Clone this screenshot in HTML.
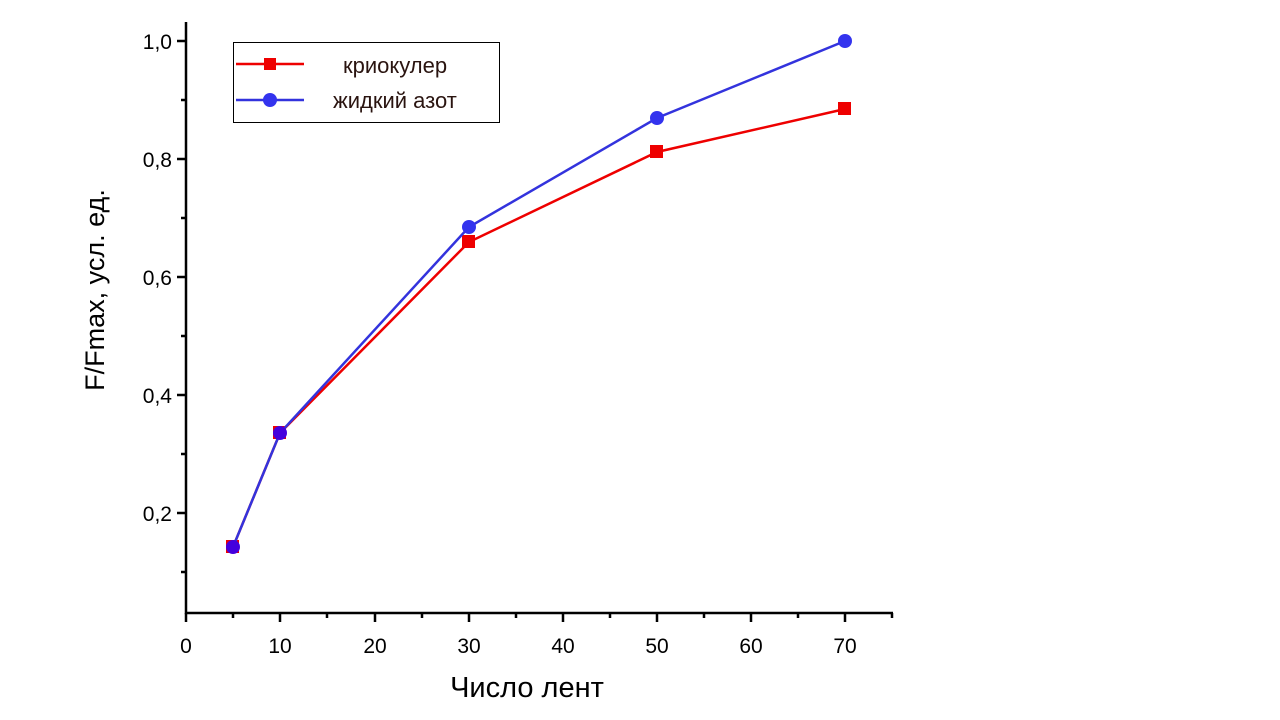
<!DOCTYPE html>
<html><head><meta charset="utf-8"><style>body{margin:0;background:#fff}svg{display:block}</style></head><body>
<svg width="1280" height="720" xmlns="http://www.w3.org/2000/svg" font-family="Liberation Sans, sans-serif">
<g stroke="#000" stroke-width="2.5" fill="none">
<path d="M186,22 V613 H893"/>
<path d="M186,41 h-9 M186,159 h-9 M186,277 h-9 M186,395 h-9 M186,513 h-9 M186,100 h-5 M186,218 h-5 M186,336 h-5 M186,454 h-5 M186,572 h-5"/>
<path d="M186,613 v9 M280,613 v9 M375,613 v9 M469,613 v9 M563,613 v9 M657,613 v9 M751,613 v9 M845,613 v9 M233,613 v5 M327,613 v5 M422,613 v5 M516,613 v5 M610,613 v5 M704,613 v5 M798,613 v5 M892,613 v5"/>
</g>
<g font-size="21" fill="#000" text-anchor="end">
<text x="172" y="49">1,0</text><text x="172" y="167">0,8</text><text x="172" y="285">0,6</text><text x="172" y="403">0,4</text><text x="172" y="521">0,2</text>
</g>
<g font-size="21" fill="#000" text-anchor="middle">
<text x="186" y="653">0</text><text x="280" y="653">10</text><text x="375" y="653">20</text><text x="469" y="653">30</text><text x="563" y="653">40</text><text x="657" y="653">50</text><text x="751" y="653">60</text><text x="845" y="653">70</text>
</g>
<text x="527" y="697" font-size="29" text-anchor="middle">Число лент</text>
<text transform="translate(104,290) rotate(-90)" font-size="27" text-anchor="middle">F/Fmax, усл. ед.</text>
<polyline points="233,547 280,433 469,242 657,152 845,109" fill="none" stroke="#e00" stroke-width="2.5"/>
<g fill="#e00"><rect x="226" y="540" width="13" height="13"/><rect x="273" y="426" width="13" height="13"/><rect x="462" y="235" width="13" height="13"/><rect x="650" y="145" width="13" height="13"/><rect x="838" y="102" width="13" height="13"/></g>
<polyline points="233,547 280,433 469,227 657,118 845,41" fill="none" stroke="#33d" stroke-width="2.5"/>
<g fill="#33e"><circle cx="233" cy="547" r="7" fill="#40d"/><circle cx="280" cy="433" r="7" fill="#40d"/><circle cx="469" cy="227" r="7"/><circle cx="657" cy="118" r="7"/><circle cx="845" cy="41" r="7"/></g>
<rect x="233.5" y="42.5" width="266" height="80" fill="#fff" stroke="#000" stroke-width="1"/>
<line x1="236" y1="64" x2="304" y2="64" stroke="#e00" stroke-width="2.5"/><rect x="264" y="58" width="12" height="12" fill="#e00"/>
<line x1="236" y1="100" x2="304" y2="100" stroke="#33d" stroke-width="2.5"/><circle cx="270" cy="100" r="7" fill="#33e"/>
<g font-size="22" fill="#2a1410"><text x="343" y="73">криокулер</text><text x="333" y="108">жидкий азот</text></g>
</svg>
</body></html>
